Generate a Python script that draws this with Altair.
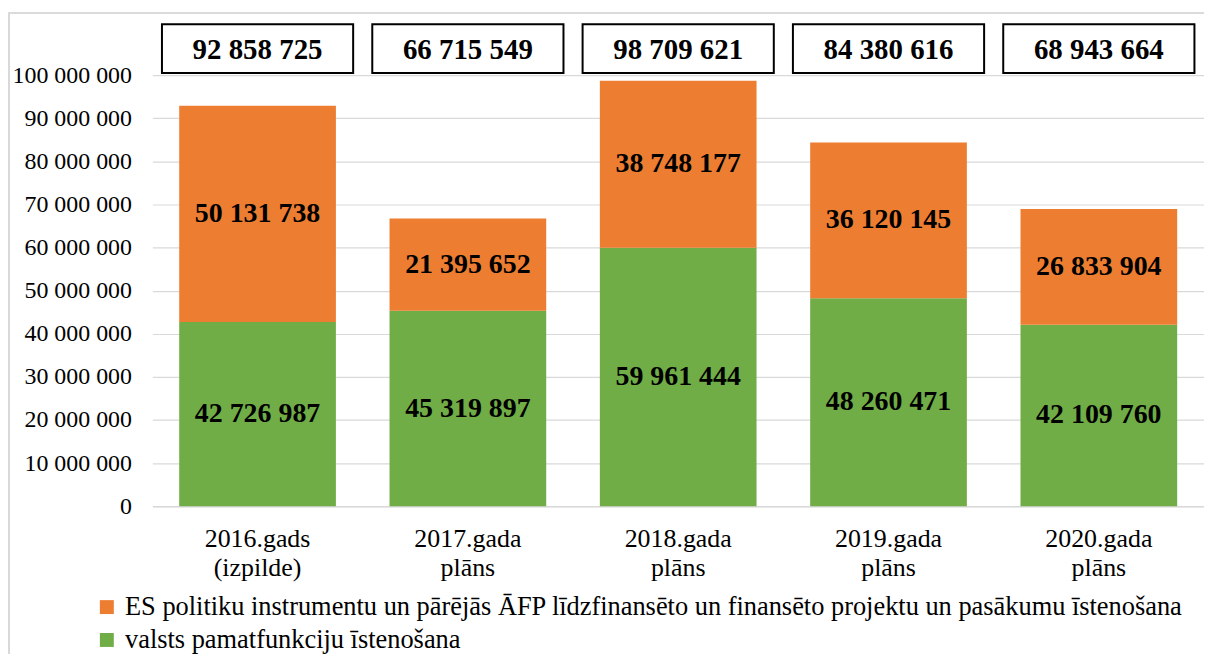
import altair as alt
import pandas as pd

categories = ["2016.gads|(izpilde)", "2017.gada|plāns", "2018.gada|plāns", "2019.gada|plāns", "2020.gada|plāns"]
series_names = [
    "ES politiku instrumentu un pārējās ĀFP līdzfinansēto un finansēto projektu un pasākumu īstenošana",
    "valsts pamatfunkciju īstenošana",
]
es_values = [50131738, 21395652, 38748177, 36120145, 26833904]
valsts_values = [42726987, 45319897, 59961444, 48260471, 42109760]
totals = [92858725, 66715549, 98709621, 84380616, 68943664]
colors = ["#ED7D31", "#70AD47"]


def fmt(v):
    return f"{v:,}".replace(",", " ")


rows = []
for c, v, e in zip(categories, valsts_values, es_values):
    rows.append({"cat": c, "series": series_names[1], "y0": 0, "y1": v, "label": fmt(v)})
    rows.append({"cat": c, "series": series_names[0], "y0": v, "y1": v + e, "label": fmt(e)})
df = pd.DataFrame(rows)
df_tot = pd.DataFrame({"cat": categories, "label": [fmt(t) for t in totals]})

FONT = "'Liberation Serif', 'Times New Roman', Times, serif"
W, H = 1056, 433

x = alt.X(
    "cat:N",
    sort=categories,
    title=None,
    scale=alt.Scale(paddingInner=0.255, paddingOuter=0.1275),
    axis=alt.Axis(
        labelExpr="split(datum.label, '|')",
        labelAngle=0,
        labelFont=FONT,
        labelFontSize=26,
        labelColor="#000000",
        labelLineHeight=30,
        labelPadding=19,
        labelBaseline="top",
        ticks=False,
        tickSize=0,
        domain=True,
        domainColor="#D9D9D9",
        domainWidth=1.5,
        grid=False,
    ),
)

base = alt.Chart(df)

bars = base.mark_bar().encode(
    x=x,
    y=alt.Y(
        "y1:Q",
        title=None,
        scale=alt.Scale(domain=[0, 100000000], nice=False),
        axis=alt.Axis(
            values=list(range(0, 100000001, 10000000)),
            labelExpr="join(split(format(datum.value, ','), ','), ' ')",
            labelFont=FONT,
            labelFontSize=24,
            labelColor="#000000",
            labelPadding=21,
            ticks=False,
            tickSize=0,
            domain=False,
            gridColor="#D9D9D9",
            gridWidth=1.2,
        ),
    ),
    y2="y0:Q",
    color=alt.Color(
        "series:N",
        scale=alt.Scale(domain=series_names, range=colors),
        title=None,
        legend=alt.Legend(
            orient="none",
            legendX=-59,
            legendY=521,
            direction="vertical",
            symbolType="square",
            symbolSize=196,
            symbolStrokeWidth=0,
            labelFont=FONT,
            labelFontSize=26.5,
            labelColor="#000000",
            labelLimit=2000,
            labelOffset=5,
            rowPadding=6,
            padding=0,
        ),
    ),
)

seg_labels = base.mark_text(
    font=FONT, fontSize=28, fontWeight="bold", color="#000000", baseline="middle"
).encode(
    x=alt.X("cat:N", sort=categories),
    y="mid:Q",
    text="label:N",
).transform_calculate(mid="(datum.y0 + datum.y1) / 2")

boxes = alt.Chart(df_tot).mark_bar(
    width=192, fill="#FFFFFF", stroke="#000000", strokeWidth=2
).encode(
    x=alt.X("cat:N", sort=categories),
    y=alt.value(-51),
    y2=alt.value(-2),
)

box_labels = alt.Chart(df_tot).mark_text(
    font=FONT, fontSize=29, fontWeight="bold", color="#000000", baseline="middle"
).encode(
    x=alt.X("cat:N", sort=categories),
    y=alt.value(-25),
    text="label:N",
)

frame = alt.Chart(df_tot).mark_rect(
    fill=None, stroke="#D9D9D9", strokeWidth=1.5
).encode(
    x=alt.value(-144),
    x2=alt.value(W + 40),
    y=alt.value(-62),
    y2=alt.value(H + 300),
)

chart = alt.layer(frame, bars, seg_labels, boxes, box_labels).properties(
    width=W,
    height=H,
    autosize=alt.AutoSizeParams(type="none"),
    padding={"left": 145, "top": 66, "right": 0, "bottom": 147},
    background="#FFFFFF",
).configure_view(stroke=None)

chart.save("out.html", embed_options={"renderer": "svg", "actions": False})
